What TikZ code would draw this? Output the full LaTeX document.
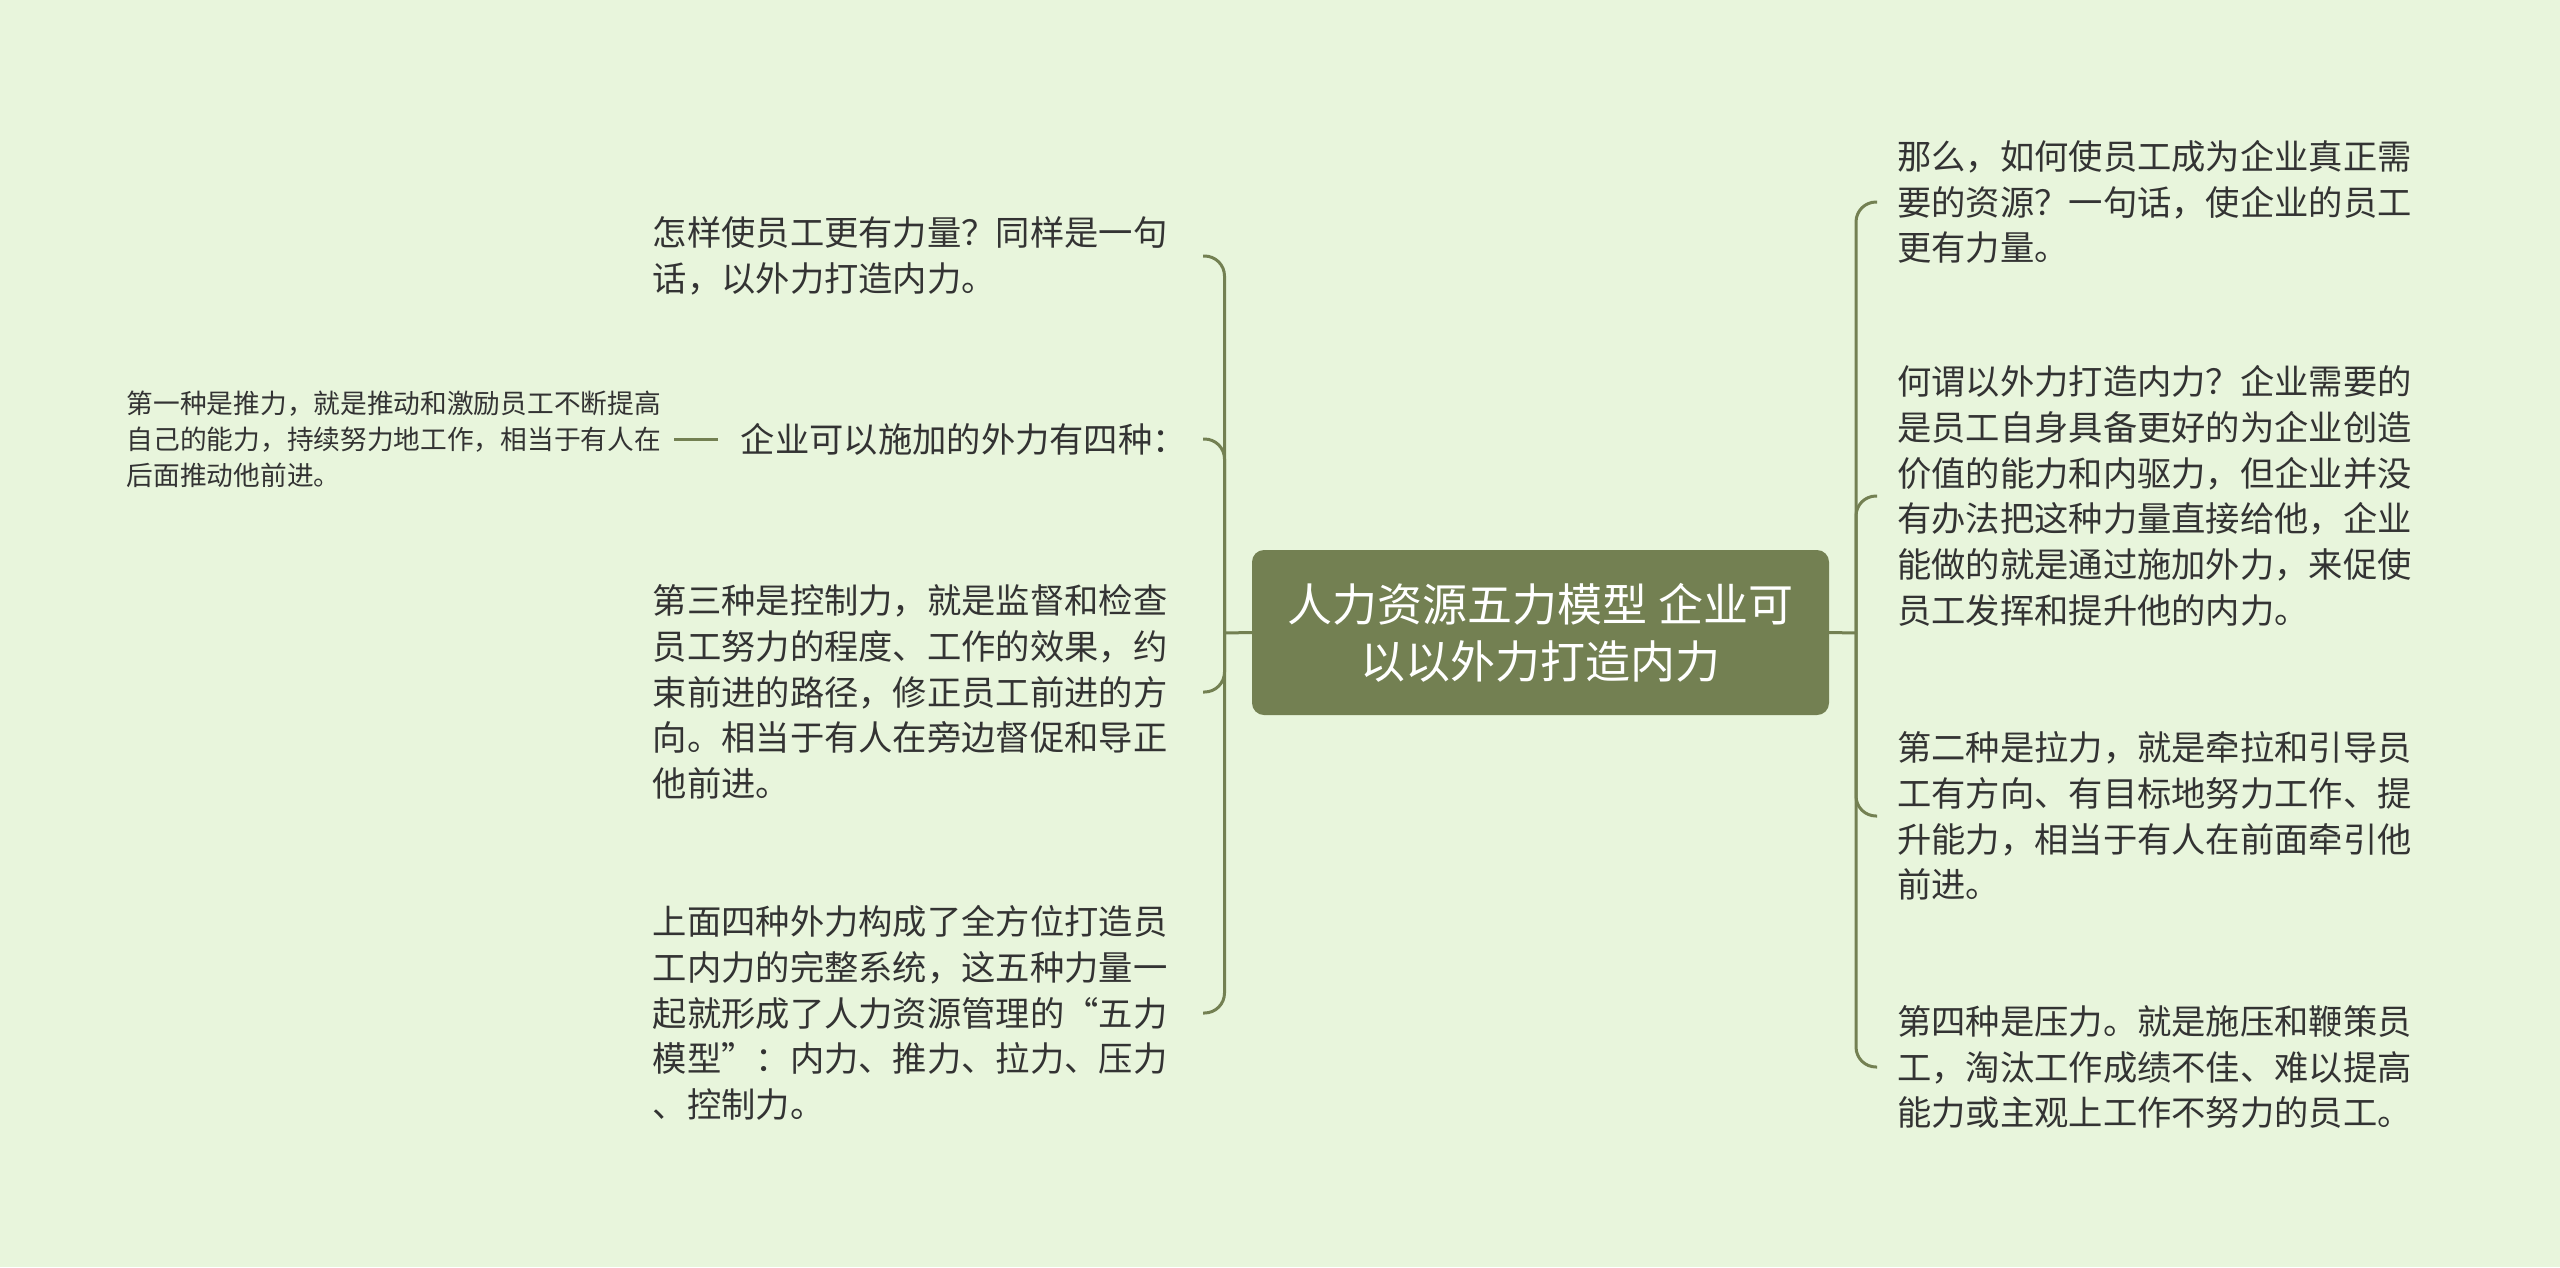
\documentclass[tikz,border=0pt]{standalone}
\usepackage{fontspec}
\setmainfont{Noto Sans CJK SC}
\definecolor{bg}{HTML}{E8F5DC}
\definecolor{lc}{HTML}{738052}
\definecolor{tx}{HTML}{333333}
\begin{document}
\begin{tikzpicture}[x=1pt,y=-1pt,
  conn/.style={draw=lc, line width=3pt, rounded corners=20pt},
  leaf/.style={text=tx, font=\fontsize{34.3pt}{45.7pt}\selectfont, align=left, text width=514pt, inner sep=0pt},
  leafone/.style={text=tx, font=\fontsize{34.3pt}{45.7pt}\selectfont, inner sep=0pt},
  small/.style={text=tx, font=\fontsize{26.7pt}{36pt}\selectfont, align=left, inner sep=0pt},
  root/.style={fill=lc, rounded corners=12pt, minimum width=577pt, minimum height=165pt, text=white, align=center, inner sep=0pt, font=\fontsize{45pt}{57pt}\selectfont}]
\fill[bg] (0,0) rectangle (2560,1267);
\useasboundingbox (0,0) rectangle (2560,1267);

\node[root] (c) at (1540.5,632.5) {人力资源五力模型 企业可\\以以外力打造内力};

\node[leaf, anchor=east] (l1) at (1167,256) {怎样使员工更有力量？同样是一句\\话，以外力打造内力。};
\node[leafone, anchor=east] (l2) at (1187,439) {企业可以施加的外力有四种：};
\node[leaf, anchor=east] (l3) at (1167,692) {第三种是控制力，就是监督和检查\\员工努力的程度、工作的效果，约\\束前进的路径，修正员工前进的方\\向。相当于有人在旁边督促和导正\\他前进。};
\node[leaf, anchor=east] (l4) at (1167,1013) {上面四种外力构成了全方位打造员\\工内力的完整系统，这五种力量一\\起就形成了人力资源管理的“五力\\模型”：内力、推力、拉力、压力\\、控制力。};
\node[small, anchor=east] (l2a) at (661,439) {第一种是推力，就是推动和激励员工不断提高\\自己的能力，持续努力地工作，相当于有人在\\后面推动他前进。};

\node[leaf, anchor=west] (r1) at (1897,202) {那么，如何使员工成为企业真正需\\要的资源？一句话，使企业的员工\\更有力量。};
\node[leaf, anchor=west] (r2) at (1897,496) {何谓以外力打造内力？企业需要的\\是员工自身具备更好的为企业创造\\价值的能力和内驱力，但企业并没\\有办法把这种力量直接给他，企业\\能做的就是通过施加外力，来促使\\员工发挥和提升他的内力。};
\node[leaf, anchor=west] (r3) at (1897,816) {第二种是拉力，就是牵拉和引导员\\工有方向、有目标地努力工作、提\\升能力，相当于有人在前面牵引他\\前进。};
\node[leaf, anchor=west] (r4) at (1897,1067) {第四种是压力。就是施压和鞭策员\\工，淘汰工作成绩不佳、难以提高\\能力或主观上工作不努力的员工。};

\coordinate (lj) at (1224.5,633);
\coordinate (rj) at (1856,633);

\draw[conn] (c.west) -- (lj);
\foreach \n in {l1,l3,l4} \draw[conn] (lj) |- ([xshift=36pt]\n.east);
\draw[conn] (lj) |- ([xshift=16pt]l2.east);
\draw[conn] (c.east) -- (rj);
\foreach \n in {r1,r2,r3,r4} \draw[conn] (rj) |- ([xshift=-20pt]\n.west);
\draw[conn] ([xshift=-23pt]l2.west) -- ([xshift=13pt]l2a.east);
\end{tikzpicture}
\end{document}
